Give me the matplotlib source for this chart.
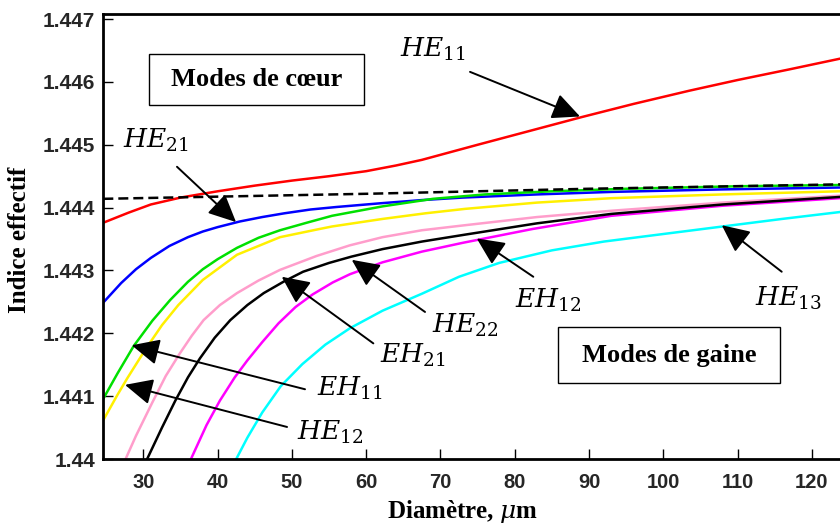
import matplotlib
matplotlib.use("Agg")
import matplotlib.pyplot as plt
from matplotlib.patches import Rectangle

plt.rcParams['mathtext.fontset'] = 'dejavuserif'

# ---- donnees ----
x_gaine = [24.6, 60, 90, 123.8]
n_gaine = [1.44414, 1.44422, 1.44430, 1.44437]

x_he11 = [24.6, 28, 31, 35, 40, 45, 50, 55, 60, 64, 67.5, 75, 82, 89, 96, 103.5, 110, 117, 123.8]
n_he11 = [1.44376, 1.44392, 1.44405, 1.44416, 1.44426, 1.44435, 1.44443, 1.44450, 1.44458, 1.44467,
          1.44476, 1.44500, 1.44522, 1.44544, 1.44565, 1.44586, 1.44603, 1.44620, 1.44637]

x_he21 = [24.6, 27, 29, 31, 33.5, 36, 38, 40, 43, 46, 49, 52.5, 56, 62, 67.5, 73, 83, 93, 108, 123.8]
n_he21 = [1.44249, 1.44280, 1.44302, 1.44320, 1.44339, 1.44353, 1.44362, 1.44369, 1.44378, 1.44385,
          1.44391, 1.44397, 1.44401, 1.44407, 1.44412, 1.44416, 1.44421, 1.44425, 1.44429, 1.44432]

x_eh11 = [24.6, 26.5, 28.7, 31.2, 33.6, 36, 38, 40, 42.6, 45.5, 48.4, 52, 55.4, 62.2, 69, 76, 85, 95, 110, 123.8]
n_eh11 = [1.44096, 1.44136, 1.44180, 1.44220, 1.44253, 1.44282, 1.44302, 1.44318, 1.44336, 1.44352,
          1.44364, 1.44376, 1.44387, 1.44402, 1.44414, 1.44421, 1.44426, 1.44430, 1.44434, 1.44436]

x_he12 = [24.6, 26.5, 27.8, 30.3, 32.5, 34.7, 38, 42.6, 48.4, 53.3, 55.4, 62.2, 68, 73.3, 83, 93, 108, 123.8]
n_he12 = [1.44062, 1.44102, 1.44128, 1.44175, 1.44213, 1.44245, 1.44285, 1.44325, 1.44353, 1.44365,
          1.44370, 1.44382, 1.44391, 1.44398, 1.44408, 1.44415, 1.44421, 1.44426]

x_eh21 = [27.6, 29, 31.2, 33, 34.9, 36.5, 38.1, 40.3, 42.6, 45.5, 48.4, 53.3, 57.8, 62.2, 67.5, 73.3, 83, 93, 108, 123.8]
n_eh21 = [1.44000, 1.44037, 1.44090, 1.44132, 1.44168, 1.44196, 1.44221, 1.44245, 1.44264, 1.44284,
          1.44301, 1.44323, 1.44340, 1.44353, 1.44364, 1.44372, 1.44385, 1.44395, 1.44408, 1.44419]

x_he22 = [30.5, 32.5, 34.3, 36, 37.6, 39.6, 41.7, 44, 46.2, 49, 51.5, 55, 58, 62.2, 67.5, 73.3, 83, 93, 108, 123.8]
n_he22 = [1.44000, 1.44050, 1.44093, 1.44130, 1.44160, 1.44193, 1.44221, 1.44245, 1.44264, 1.44283,
          1.44298, 1.44312, 1.44322, 1.44334, 1.44346, 1.44357, 1.44375, 1.44390, 1.44405, 1.44417]

x_eh12 = [36.4, 38.5, 40.3, 42.3, 44, 46, 48.2, 50.5, 52.8, 55.5, 57.8, 62.2, 67.5, 73, 82.4, 93, 108, 123.8]
n_eh12 = [1.44000, 1.44054, 1.44093, 1.44130, 1.44157, 1.44186, 1.44216, 1.44242, 1.44262, 1.44281,
          1.44294, 1.44313, 1.44330, 1.44344, 1.44366, 1.44387, 1.44403, 1.44415]

x_he13 = [42.5, 44, 46, 48.5, 51.4, 54.5, 57.8, 62.2, 67.5, 72.5, 77.9, 85, 92, 100, 108, 116, 123.8]
n_he13 = [1.44000, 1.44034, 1.44074, 1.44116, 1.44151, 1.44182, 1.44208, 1.44236, 1.44263, 1.44290,
          1.44312, 1.44332, 1.44346, 1.44358, 1.44370, 1.44382, 1.44393]

x_ticks = [30, 40, 50, 60, 70, 80, 90, 100, 110, 120]
y_ticks = [1.440, 1.441, 1.442, 1.443, 1.444, 1.445, 1.446, 1.447]
y_ticklabels = ['1.44', '1.441', '1.442', '1.443', '1.444', '1.445', '1.446', '1.447']

# ---- figure ----
fig = plt.figure(figsize=(8.4, 5.24), dpi=100)
ax = fig.add_axes([0.1230, 0.1240, 0.8770, 0.8492])

lw = 1.8
ax.plot(x_he11, n_he11, color='#FF0000', lw=lw)
ax.plot(x_he21, n_he21, color='#0000FF', lw=lw)
ax.plot(x_eh11, n_eh11, color='#00E000', lw=lw)
ax.plot(x_he12, n_he12, color='#FFF000', lw=lw)
ax.plot(x_eh21, n_eh21, color='#FF9DCB', lw=lw)
ax.plot(x_eh12, n_eh12, color='#FF00FF', lw=lw)
ax.plot(x_he22, n_he22, color='black', lw=lw)
ax.plot(x_he13, n_he13, color='#00FFFF', lw=lw)
ax.plot(x_gaine, n_gaine, color='black', lw=lw, dashes=(4, 2))

ax.set_xlim(24.6, 123.8)
ax.set_ylim(1.440, 1.44708)
ax.set_xticks(x_ticks)
ax.set_yticks(y_ticks)
ax.set_yticklabels(y_ticklabels)

for lab in ax.get_xticklabels() + ax.get_yticklabels():
    lab.set_family('Liberation Sans')
    lab.set_fontweight('bold')
    lab.set_color('#262626')
ax.tick_params(axis='y', direction='in', length=7, width=1, labelsize=15, pad=6)
ax.tick_params(axis='x', direction='in', length=7, width=1, labelsize=14.5, pad=10)

for s in ['left', 'bottom', 'top']:
    ax.spines[s].set_linewidth(2)
ax.spines['right'].set_visible(False)

ax.set_xlabel('Diamètre, $\\mu$m', family='Liberation Serif', fontweight='bold', fontsize=18)
ax.set_ylabel('Indice effectif', family='Liberation Serif', fontweight='bold', fontsize=18)
ax.xaxis.set_label_coords(0.487, -0.088)
ax.yaxis.set_label_coords(-0.098, 0.492)

# encadres
ax.add_patch(Rectangle((30.75, 1.44563), 28.96, 0.00081, fc='white', ec='black', lw=1, zorder=3))
ax.text(45.23, 1.44604, 'Modes de cœur', family='Liberation Serif', fontweight='bold',
        fontsize=19, ha='center', va='center', zorder=4)
ax.add_patch(Rectangle((85.83, 1.44121), 29.9, 0.00089, fc='white', ec='black', lw=1, zorder=3))
ax.text(100.78, 1.44165, 'Modes de gaine', family='Liberation Serif', fontweight='bold',
        fontsize=19, ha='center', va='center', zorder=4)

# etiquettes des modes avec fleches
labels = [
    ('$HE_{11}$', (64.55, 1.44651), (73.98, 1.44616), (88.79, 1.44545)),
    ('$HE_{21}$', (27.25, 1.44507), (34.52, 1.44465), (42.47, 1.44377)),
    ('$EH_{11}$', (53.38, 1.44113), (51.76, 1.44111), (28.42, 1.44181)),
    ('$HE_{12}$', (50.68, 1.44043), (49.34, 1.44051), (27.52, 1.44118)),
    ('$EH_{21}$', (61.86, 1.44165), (60.96, 1.44184), (48.62, 1.44290)),
    ('$HE_{22}$', (68.86, 1.44212), (67.92, 1.44234), (58.05, 1.44317)),
    ('$EH_{12}$', (80.04, 1.44253), (82.50, 1.44290), (74.88, 1.44351)),
    ('$HE_{13}$', (112.36, 1.44256), (115.95, 1.44298), (107.88, 1.44372)),
]
for txt, pos, tail, tip in labels:
    ax.text(pos[0], pos[1], txt, fontsize=19, ha='left', va='center', zorder=5)
    ax.annotate('', xy=tip, xytext=tail,
                arrowprops=dict(arrowstyle='-|>,head_length=0.85,head_width=0.4',
                                color='black', lw=1.4, mutation_scale=20,
                                shrinkA=0, shrinkB=0), zorder=5)

fig.savefig('out.png', dpi=100)
